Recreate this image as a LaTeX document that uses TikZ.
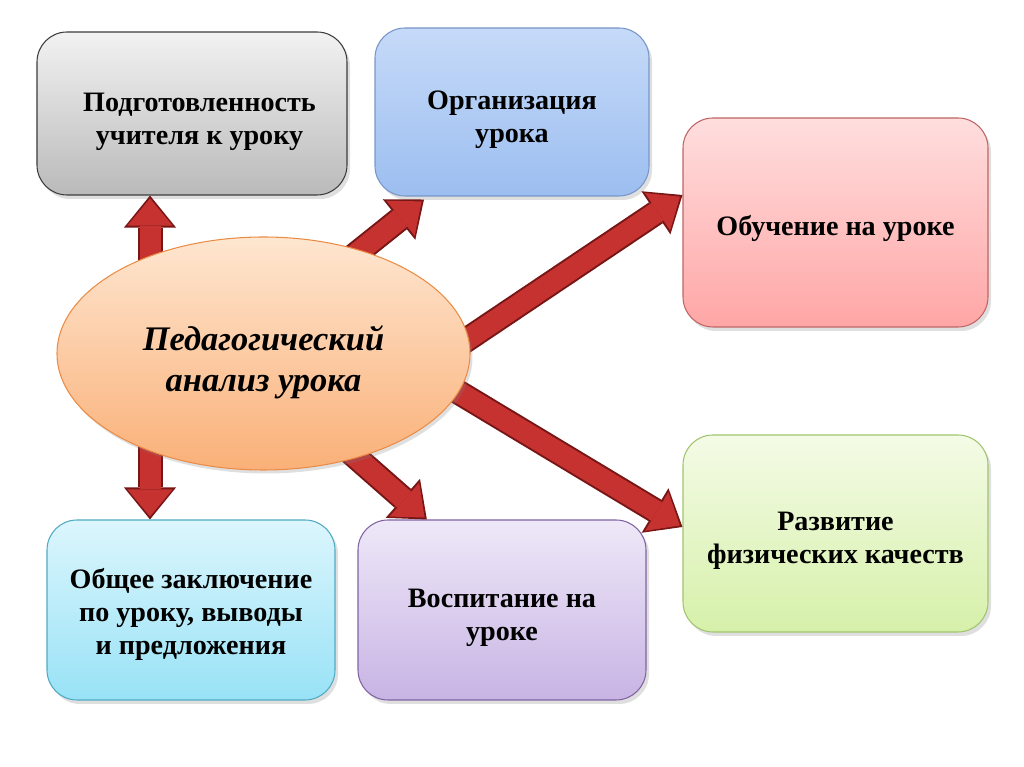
\documentclass[tikz,border=0pt]{standalone}
\usepackage{fontspec}
\setmainfont{Liberation Serif}
\usetikzlibrary{arrows.meta,calc,positioning,shapes.geometric,shadows}
\definecolor{arrred}{RGB}{198,50,48}
\definecolor{arrdark}{RGB}{120,22,22}
\definecolor{grtop}{RGB}{242,242,242}\definecolor{grbot}{RGB}{186,186,186}\definecolor{grline}{RGB}{60,60,60}
\definecolor{bltop}{RGB}{198,218,248}\definecolor{blbot}{RGB}{156,190,240}\definecolor{blline}{RGB}{120,150,200}
\definecolor{pktop}{RGB}{255,222,222}\definecolor{pkbot}{RGB}{255,166,166}\definecolor{pkline}{RGB}{192,100,100}
\definecolor{gntop}{RGB}{244,251,230}\definecolor{gnbot}{RGB}{214,240,170}\definecolor{gnline}{RGB}{160,196,110}
\definecolor{vitop}{RGB}{238,232,248}\definecolor{vibot}{RGB}{200,180,228}\definecolor{viline}{RGB}{128,100,162}
\definecolor{cytop}{RGB}{220,246,253}\definecolor{cybot}{RGB}{152,226,246}\definecolor{cyline}{RGB}{80,170,196}
\definecolor{ortop}{RGB}{254,230,208}\definecolor{orbot}{RGB}{250,176,120}\definecolor{orline}{RGB}{235,140,70}
\newcommand{\topgap}[1]{\rule{0pt}{#1}}

\begin{document}
\begin{tikzpicture}[
    box/.style={draw, rounded corners=0.6cm, align=center, line width=0.6pt,
      font=\fontsize{16}{18.8}\selectfont\bfseries,
      drop shadow={shadow xshift=0.06cm, shadow yshift=-0.08cm, opacity=0.25}},
    arr/.style={draw=arrdark, line width=0.5cm, -{Triangle[length=0.64cm,width=1.04cm,line width=0pt]}},
    arrin/.style={draw=arrred, line width=0.42cm, -{Triangle[length=0.54cm,width=0.9cm,line width=0pt]}, shorten >=0.06cm}
  ]
  \useasboundingbox (0,0) rectangle (20.48,-15.34);

  \node[box, top color=grtop, bottom color=grbot, draw=grline, minimum width=6.2cm, minimum height=3.26cm]
    (gotov) at (3.84,-2.27) {\topgap{0.7cm}\hspace*{0.3cm}Подготовленность\\\hspace*{0.3cm}учителя к уроку};
  \node[box, top color=bltop, bottom color=blbot, draw=blline, minimum width=5.48cm, minimum height=3.36cm]
    (org) at (10.24,-2.24) {\topgap{0.7cm}Организация\\урока};
  \node[box, top color=pktop, bottom color=pkbot, draw=pkline, minimum width=6.1cm, minimum height=4.18cm]
    (obuch) at (16.71,-4.45) {\topgap{0.66cm}Обучение на уроке};
  \node[box, top color=gntop, bottom color=gnbot, draw=gnline, minimum width=6.1cm, minimum height=3.94cm]
    (razv) at (16.71,-10.67) {\topgap{0.66cm}Развитие\\физических качеств};
  \node[box, top color=vitop, bottom color=vibot, draw=viline, minimum width=5.76cm, minimum height=3.6cm]
    (vosp) at (10.04,-12.2) {\topgap{0.7cm}Воспитание на\\уроке};
  \node[box, top color=cytop, bottom color=cybot, draw=cyline, minimum width=5.76cm, minimum height=3.6cm]
    (zakl) at (3.82,-12.2) {\topgap{0.58cm}Общее заключение\\по уроку, выводы\\и предложения};

  \coordinate (tu) at (3.0,-6.6);
  \coordinate (td) at (3.0,-7.5);
  \coordinate (t2) at (4.6,-7.1);
  \coordinate (t3) at (7.6,-7.96);
  \coordinate (t4) at (7.6,-6.9);
  \coordinate (t5) at (6.0,-8.16);
  \coordinate (h1) at (tu |- gotov.south);
  \coordinate (h6) at (td |- zakl.north);
  \coordinate (h2) at ($(org.south west)!0.18!(org.south east)+(0,-0.06)$);
  \coordinate (h3) at ([yshift=0.55cm]obuch.west);
  \coordinate (h4) at ([yshift=0.13cm]razv.west);
  \coordinate (h5) at ($(vosp.north west)!0.24!(vosp.north east)$);
  \foreach \t/\h in {tu/h1,td/h6,t2/h2,t3/h3,t4/h4,t5/h5}{
    \draw[arr] (\t) -- (\h);
    \draw[arrin] (\t) -- (\h);
  }

  \node[ellipse, draw=orline, line width=0.6pt, top color=ortop, bottom color=orbot,
    minimum width=8.26cm, minimum height=4.66cm, inner sep=0pt, align=center,
    font=\fontsize{19.6}{23.3}\selectfont\bfseries\itshape,
    drop shadow={shadow xshift=0.05cm, shadow yshift=-0.07cm, opacity=0.25}]
    (analiz) at (5.27,-7.07) {\topgap{0.83cm}Педагогический\\анализ урока};
\end{tikzpicture}
\end{document}
